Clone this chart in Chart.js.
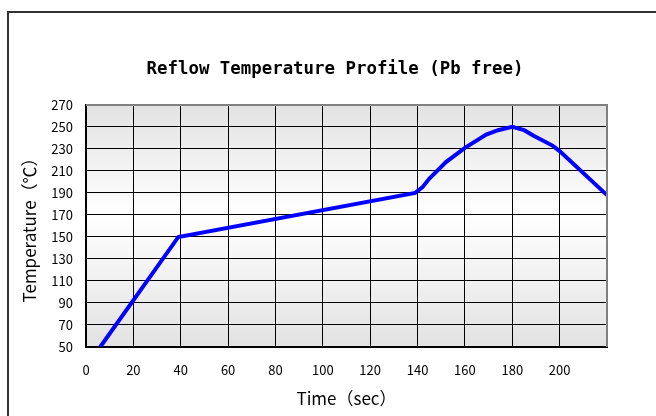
<!DOCTYPE html>
<html>
<head>
<meta charset="utf-8">
<script src="https://cdn.jsdelivr.net/npm/chart.js@4"></script>
<style>
  html, body { margin: 0; padding: 0; background: #fff; }
  #wrap { width: 656px; height: 416px; }
</style>
</head>
<body>
<div id="wrap"><canvas id="reflowChart" width="656" height="416"></canvas></div>
<script>
// profile (sec, degC)
const timeSec = [6, 39, 139, 142, 145, 152, 160, 169, 174, 180, 185, 189, 197, 200, 220];
const tempC   = [50, 150, 190, 195, 203, 218, 231, 243, 247, 250, 247, 242, 233, 228, 188];
const xTicks = [0, 20, 40, 60, 80, 100, 120, 140, 160, 180, 200, 220];
const xLabels = ['0', '20', '40', '60', '80', '100', '120', '140', '160', '180', '200', ''];
const yTicks = [50, 70, 90, 110, 130, 150, 170, 190, 210, 230, 250, 270];

const jpFont = '"Noto Sans CJK JP", "DejaVu Sans", sans-serif';
const monoFont = '"DejaVu Sans Mono", monospace';

// outer frame + gradient plot background + plot frame
const decor = {
  id: 'decor',
  beforeDraw(chart) {
    const c = chart.ctx, a = chart.chartArea;
    c.save();
    c.fillStyle = '#fff';
    c.fillRect(0, 0, chart.width, chart.height);
    c.strokeStyle = '#333';
    c.lineWidth = 2;
    c.beginPath();
    c.moveTo(8, 416);
    c.lineTo(8, 12);
    c.lineTo(656, 12);
    c.stroke();
    let g = c.createLinearGradient(0, a.top, 0, a.bottom);
    g.addColorStop(0, '#e2e2e2');
    g.addColorStop(0.45, '#ffffff');
    g.addColorStop(1, '#e2e2e2');
    c.fillStyle = g;
    c.fillRect(a.left, a.top, a.right - a.left, a.bottom - a.top);
    c.restore();
  },
  afterDatasetsDraw(chart) {
    const c = chart.ctx, a = chart.chartArea;
    c.save();
    c.strokeStyle = '#808080';
    c.lineWidth = 2;
    c.beginPath();
    c.moveTo(a.left, a.top);
    c.lineTo(a.right, a.top);
    c.lineTo(a.right, a.bottom);
    c.stroke();
    c.restore();
  }
};

const ctx = document.getElementById('reflowChart');

new Chart(ctx, {
  type: 'line',
  data: {
    datasets: [{
      label: 'Temperature',
      data: timeSec.map((t, i) => ({ x: t, y: tempC[i] })),
      borderColor: '#0000ff',
      borderWidth: 4,
      pointRadius: 0,
      tension: 0,
      fill: false
    }]
  },
  plugins: [decor],
  options: {
    responsive: false,
    animation: false,
    layout: { padding: { left: 14, right: 0, top: 0, bottom: 0 } },
    plugins: {
      legend: { display: false },
      tooltip: { enabled: false },
      title: {
        display: true,
        text: 'Reflow Temperature Profile (Pb free)',
        color: '#000',
        font: { family: monoFont, size: 17.4, weight: 'bold', lineHeight: 1.2 },
        padding: { top: 59, bottom: 25 }
      }
    },
    scales: {
      x: {
        type: 'linear',
        min: 0,
        max: 220,
        afterBuildTicks: s => { s.ticks = xTicks.map(v => ({ value: v })); },
        afterFit: s => { s.height = 69; },
        ticks: {
          color: '#000',
          padding: 15,
          maxRotation: 0,
          font: { family: jpFont, size: 13 },
          callback: (v, i) => xLabels[i]
        },
        grid: { color: '#000', lineWidth: 1, drawTicks: false },
        border: { color: '#000', width: 2 },
        title: {
          display: true,
          text: 'Time（sec）',
          color: '#000',
          font: { family: jpFont, size: 17 },
          padding: { top: 0, bottom: 7 }
        }
      },
      y: {
        type: 'linear',
        min: 50,
        max: 270,
        afterBuildTicks: s => { s.ticks = yTicks.map(v => ({ value: v })); },
        afterFit: s => { s.width = 72; },
        ticks: {
          color: '#000',
          padding: 13,
          font: { family: jpFont, size: 13 }
        },
        grid: { color: '#000', lineWidth: 1, drawTicks: false },
        border: { color: '#000', width: 2 },
        title: {
          display: true,
          text: 'Temperature（℃）',
          color: '#000',
          font: { family: jpFont, size: 17 },
          padding: { top: 5, bottom: 0 }
        }
      },
      // empty right-hand strip, keeps the plot off the right edge
      yRight: {
        type: 'linear',
        position: 'right',
        min: 50,
        max: 270,
        afterFit: s => { s.width = 49; },
        ticks: { display: false },
        grid: { display: false },
        border: { display: false }
      }
    }
  }
});
</script>
</body>
</html>
